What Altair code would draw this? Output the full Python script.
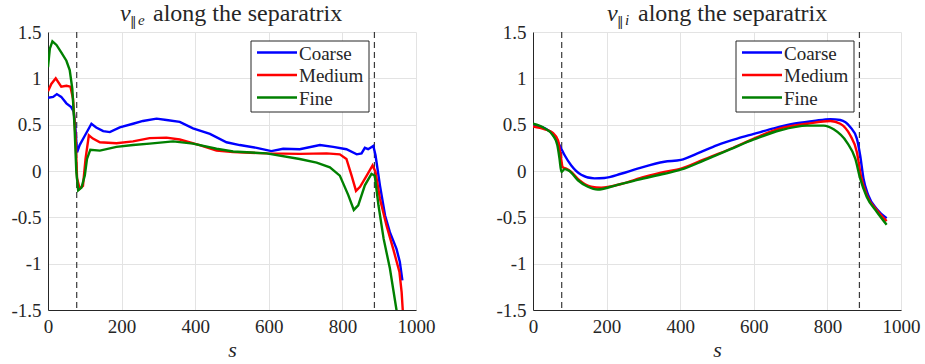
import altair as alt
import pandas as pd

# ---------------- data ----------------
series_names = ["Coarse", "Medium", "Fine"]
series_colors = ["#0000ff", "#ff0000", "#008000"]
separators = [78, 887]
x_ticks = [0, 200, 400, 600, 800, 1000]
y_ticks = [-1.5, -1, -0.5, 0, 0.5, 1, 1.5]

# electron parallel velocity
e_s_coarse = [0, 14, 24, 36, 50, 63, 70, 75, 79, 86, 100, 118, 131, 150, 168, 195, 231, 258, 295, 322, 358, 394, 440, 485, 521, 567, 607, 639, 684, 739, 775, 811, 839, 852, 861, 870, 884, 890, 902, 916, 929, 947, 956, 963]
e_v_coarse = [0.79, 0.80, 0.83, 0.80, 0.73, 0.69, 0.64, 0.44, 0.20, 0.28, 0.38, 0.51, 0.47, 0.43, 0.42, 0.47, 0.51, 0.54, 0.565, 0.55, 0.53, 0.46, 0.40, 0.31, 0.28, 0.25, 0.215, 0.24, 0.235, 0.28, 0.26, 0.235, 0.18, 0.19, 0.25, 0.235, 0.27, 0.17, -0.155, -0.48, -0.66, -0.84, -0.98, -1.18]
e_s_medium = [0, 9, 21, 36, 50, 61, 68, 75, 79, 86, 95, 102, 111, 122, 141, 186, 231, 276, 322, 358, 412, 458, 503, 594, 684, 757, 793, 811, 825, 837, 848, 866, 882, 890, 902, 920, 938, 955, 961, 964, 966]
e_v_medium = [0.86, 0.94, 1.00, 0.91, 0.92, 0.91, 0.78, 0.35, -0.08, -0.19, -0.16, 0.13, 0.385, 0.35, 0.31, 0.30, 0.32, 0.355, 0.36, 0.34, 0.28, 0.22, 0.205, 0.19, 0.185, 0.19, 0.18, 0.13, -0.05, -0.215, -0.17, -0.05, 0.06, -0.01, -0.30, -0.59, -0.84, -1.09, -1.31, -1.50, -1.6]
e_s_fine = [0, 5, 12, 23, 36, 50, 59, 66, 72, 77, 82, 91, 100, 106, 115, 141, 186, 231, 276, 340, 394, 458, 503, 594, 684, 730, 766, 793, 816, 831, 843, 861, 879, 888, 898, 912, 929, 947, 952]
e_v_fine = [1.12, 1.32, 1.40, 1.36, 1.28, 1.19, 1.09, 0.89, 0.49, -0.01, -0.21, -0.18, -0.05, 0.13, 0.23, 0.22, 0.26, 0.28, 0.295, 0.32, 0.295, 0.24, 0.21, 0.19, 0.13, 0.09, 0.04, -0.05, -0.26, -0.42, -0.37, -0.155, -0.03, -0.05, -0.37, -0.73, -1.05, -1.50, -1.62]

# ion parallel velocity
i_s_coarse = [0, 32, 54, 68, 77, 86, 104, 131, 167, 194, 239, 284, 357, 402, 447, 501, 555, 600, 654, 708, 763, 808, 835, 862, 880, 889, 898, 911, 934, 961]
i_v_coarse = [0.50, 0.46, 0.40, 0.31, 0.24, 0.17, 0.06, -0.04, -0.08, -0.075, -0.03, 0.025, 0.10, 0.12, 0.19, 0.28, 0.35, 0.40, 0.46, 0.51, 0.54, 0.56, 0.55, 0.475, 0.35, 0.17, -0.08, -0.26, -0.41, -0.51]
i_s_medium = [0, 32, 54, 68, 75, 81, 90, 104, 126, 158, 185, 239, 302, 357, 402, 465, 537, 600, 672, 745, 808, 835, 862, 880, 891, 907, 934, 961]
i_v_medium = [0.48, 0.45, 0.41, 0.33, 0.17, 0.04, 0.025, -0.01, -0.10, -0.17, -0.18, -0.14, -0.065, -0.01, 0.025, 0.125, 0.24, 0.35, 0.46, 0.51, 0.54, 0.51, 0.385, 0.205, -0.05, -0.26, -0.42, -0.54]
i_s_fine = [0, 32, 54, 66, 72, 77, 86, 99, 122, 149, 176, 221, 284, 357, 411, 465, 537, 600, 672, 745, 790, 817, 853, 876, 889, 907, 934, 961]
i_v_fine = [0.51, 0.46, 0.385, 0.28, 0.135, -0.01, 0.02, 0.0, -0.10, -0.17, -0.20, -0.16, -0.095, -0.03, 0.025, 0.115, 0.235, 0.34, 0.44, 0.49, 0.49, 0.45, 0.31, 0.13, -0.08, -0.28, -0.44, -0.58]

W, H = 368, 278
FONT = "Liberation Serif, Times New Roman, serif"
SUBFONT = "DejaVu Serif, serif"
TXT = "#262626"


def long_df(pairs):
    rows = []
    for name, (ss, vv) in zip(series_names, pairs):
        for k, (s, v) in enumerate(zip(ss, vv)):
            rows.append({"s": s, "v": v, "grid": name, "k": k})
    return pd.DataFrame(rows)


def axis(values, title):
    kw = dict(values=values, grid=True, labelFlush=False, labelExpr="'' + datum.value",
              labelFont=FONT, labelFontSize=19, labelColor=TXT, labelPadding=7,
              domainColor="#262626", domainWidth=1, gridColor="#e3e3e3", gridWidth=1, tickSize=0)
    if title:
        kw.update(title=title, titleFont=FONT, titleFontSize=22, titleFontStyle="italic",
                  titleFontWeight="normal", titleColor=TXT, titlePadding=3)
    else:
        kw.update(title=None, minExtent=38, maxExtent=38)
    return alt.Axis(**kw)


def panel(df, sub, sub_x, v_x, interp):
    xs = alt.Scale(domain=[0, 1000], nice=False)
    ys = alt.Scale(domain=[-1.5, 1.5], nice=False)
    base_x = alt.X("s:Q", scale=xs, axis=axis(x_ticks, "s"))
    base_y = alt.Y("v:Q", scale=ys, axis=axis(y_ticks, None))
    lines = alt.Chart(df).mark_line(strokeWidth=2.4, clip=True, interpolate=interp).encode(
        x=base_x, y=base_y,
        color=alt.Color("grid:N", scale=alt.Scale(domain=series_names, range=series_colors), legend=None),
        order="k:Q",
    )
    sep = alt.Chart(pd.DataFrame({"s": separators})).mark_rule(
        color="#3a3a3a", strokeDash=[6, 4], strokeWidth=1.2).encode(x=alt.X("s:Q", scale=xs))

    layers = [sep, lines]
    # legend box
    layers.append(alt.Chart().mark_rect(fill="white", stroke="#262626", strokeWidth=1).encode(
        x=alt.value(203), x2=alt.value(321), y=alt.value(9), y2=alt.value(80)))
    for i, (name, col) in enumerate(zip(series_names, series_colors)):
        yy = 20.5 + i * 22.5
        layers.append(alt.Chart().mark_rule(color=col, strokeWidth=2.4).encode(
            x=alt.value(209), x2=alt.value(249), y=alt.value(yy)))
        layers.append(alt.Chart().mark_text(text=name, font=FONT, fontSize=19, color=TXT,
                                            align="left", baseline="middle").encode(
            x=alt.value(251), y=alt.value(yy + 1)))
    # title
    layers.append(alt.Chart().mark_text(text="v", font=FONT, fontSize=24, fontStyle="italic",
                                        color=TXT, align="left", baseline="alphabetic").encode(
        x=alt.value(v_x), y=alt.value(-11.5)))
    layers.append(alt.Chart().mark_text(text=sub[0], font=SUBFONT, fontSize=13,
                                        color=TXT, align="left", baseline="alphabetic").encode(
        x=alt.value(sub_x), y=alt.value(-6.5)))
    layers.append(alt.Chart().mark_text(text=sub[1], font=FONT, fontSize=15, fontStyle="italic",
                                        color=TXT, align="left", baseline="alphabetic").encode(
        x=alt.value(sub_x + 8), y=alt.value(-7.5)))
    layers.append(alt.Chart().mark_text(text="along the separatrix", font=FONT, fontSize=24,
                                        color=TXT, align="left", baseline="alphabetic").encode(
        x=alt.value(105), y=alt.value(-11.5)))
    return alt.layer(*layers).properties(width=W, height=H)


left = panel(long_df([(e_s_coarse, e_v_coarse), (e_s_medium, e_v_medium), (e_s_fine, e_v_fine)]),
             "\u2016e", 82, 72, "linear")
right = panel(long_df([(i_s_coarse, i_v_coarse), (i_s_medium, i_v_medium), (i_s_fine, i_v_fine)]),
              "\u2016i", 84, 74, "monotone")

chart = alt.hconcat(left, right, spacing=117, bounds="flush").resolve_scale(color="shared").properties(
    padding={"left": 10, "top": 1, "right": 5, "bottom": 5}
).configure_view(stroke=None).configure_axis(
    labelFont=FONT, titleFont=FONT,
)

chart.save("out.html", embed_options={"renderer": "svg", "actions": False})
